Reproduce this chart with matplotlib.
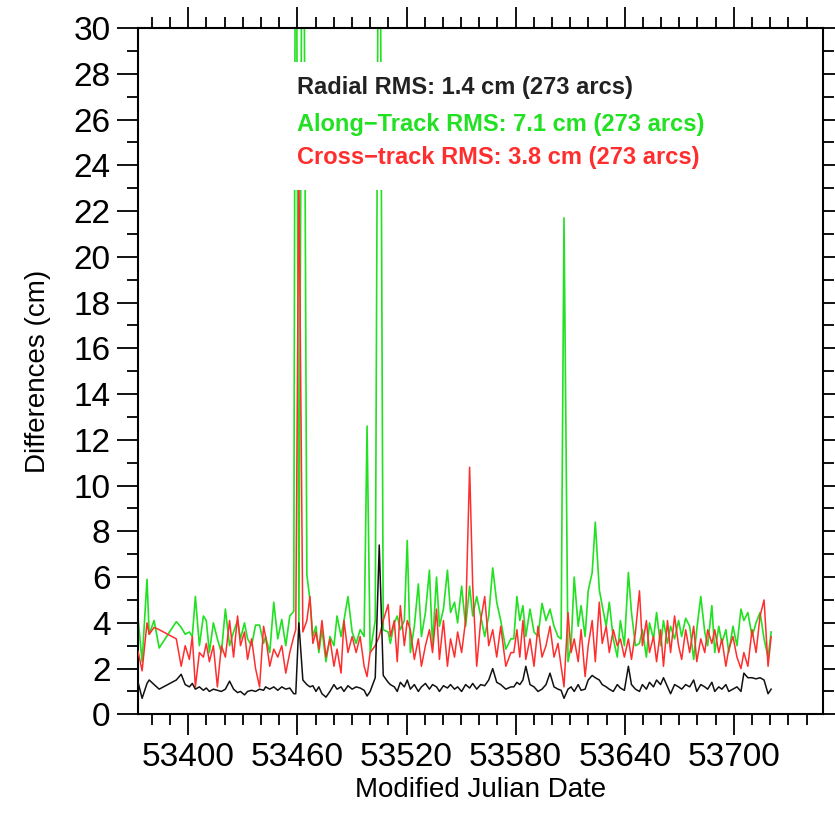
import matplotlib
matplotlib.use('Agg')
import matplotlib.pyplot as plt
from matplotlib.patches import Rectangle
from matplotlib.ticker import MultipleLocator

plt.rcParams['font.family'] = ['Liberation Sans', 'DejaVu Sans']

# arc epochs (MJD)
mjd = [53372.4, 53374.6, 53377.3, 53378.5, 53381.2, 53384.0, 53393.4, 53396.1, 53398.3, 53400.6,
       53402.2, 53403.9, 53406.1, 53408.3, 53409.9, 53411.6, 53413.8, 53416.0, 53418.2, 53420.4,
       53422.7, 53424.9, 53427.1, 53428.7, 53430.9, 53432.6, 53434.8, 53437.0, 53439.2, 53441.4,
       53442.5, 53444.8, 53447.0, 53449.2, 53451.4, 53453.6, 53455.8, 53458.0, 53459.1, 53460.8,
       53463.0, 53465.2, 53466.9, 53468.5, 53470.2, 53471.8, 53473.5, 53475.7, 53477.9, 53480.1,
       53481.8, 53484.0, 53485.6, 53487.8, 53490.1, 53492.3, 53494.5, 53496.7, 53498.3, 53500.0,
       53502.8, 53505.0, 53507.2, 53509.9,
       53511.1, 53513.3, 53514.9, 53516.6, 53518.8, 53520.4, 53522.1, 53524.3, 53526.5, 53528.2,
       53530.4, 53532.6, 53534.3, 53536.5, 53538.1, 53540.3, 53542.5, 53544.2, 53546.4, 53548.1,
       53550.3, 53552.5, 53554.7, 53556.4, 53558.6, 53560.8, 53563.0, 53565.2, 53567.4, 53569.6,
       53571.8, 53574.6, 53577.4,
       53579.0, 53580.7, 53582.3, 53584.0, 53585.6, 53587.9, 53590.1, 53592.3, 53594.5, 53596.7,
       53598.9, 53601.1, 53603.3, 53605.0, 53606.6, 53608.8, 53610.5, 53612.2, 53614.4, 53616.0,
       53618.2, 53619.9, 53622.1, 53623.8, 53626.0, 53627.6, 53629.8, 53631.5, 53633.7, 53635.9,
       53637.6, 53639.8, 53642.0, 53643.7, 53645.9,
       53648.1, 53649.7, 53651.9, 53653.6, 53655.8, 53657.5, 53659.7, 53661.3, 53663.5, 53665.2,
       53667.4, 53669.6, 53671.3, 53673.5, 53675.7, 53677.9, 53679.6, 53681.8, 53684.0, 53685.6,
       53687.9, 53689.5, 53691.7, 53693.4, 53695.6, 53697.2, 53699.5, 53701.7, 53703.9, 53705.5,
       53707.7, 53710.0, 53712.2, 53714.4, 53716.6, 53718.8, 53720.5]

along = [4.2, 2.3, 5.9, 3.5, 4.1, 2.9, 4.05, 3.8, 3.5, 3.6,
         3.4, 5.15, 3.0, 4.3, 4.1, 2.7, 4.0, 3.3, 2.7, 4.6,
         3.0, 3.6, 4.1, 3.3, 4.0, 3.3, 3.0, 3.9, 3.9, 3.1,
         3.4, 2.7, 4.9, 3.3, 4.15, 3.0, 4.3, 4.5, 45.0, 3.5,
         45.0, 6.1, 5.0, 3.4, 3.85, 2.7, 3.7, 2.3, 3.4, 3.0,
         4.3, 3.4, 4.1, 5.15, 3.6, 3.1, 3.7, 3.4, 12.6, 2.7,
         4.1, 45.0, 3.7, 3.6,
         3.1, 4.0, 4.3, 3.7, 4.1, 7.6, 2.7, 3.85, 5.7, 3.4,
         4.45, 6.3, 3.0, 6.0, 3.85, 4.6, 6.3, 4.45, 4.9, 4.0,
         5.6, 3.85, 5.6, 4.3, 5.15, 4.3, 3.4, 4.3, 6.4, 4.9,
         4.1, 2.85, 3.3,
         3.3, 5.15, 4.1, 4.75, 3.4, 4.6, 3.6, 3.4, 4.85, 4.1,
         4.6, 3.85, 3.4, 3.3, 21.7, 2.3, 3.0, 6.0, 3.85, 4.75,
         3.4, 5.4, 6.2, 8.4, 5.45, 4.75, 3.85, 4.9, 3.3, 2.5,
         4.1, 3.0, 6.2, 4.45, 3.0,
         3.1, 3.7, 2.5, 4.0, 3.3, 4.45, 3.0, 4.1, 3.1, 3.85,
         3.3, 4.1, 3.4, 4.2, 3.85, 2.4, 3.7, 5.15, 3.6, 3.0,
         4.75, 2.7, 3.85, 3.1, 3.7, 2.7, 3.85, 3.0, 4.6, 4.1,
         4.45, 3.4, 4.0, 4.45, 3.3, 2.5, 3.6]

cross = [2.75, 1.9, 4.0, 3.5, 3.8, 3.7, 3.3, 2.1, 3.0, 2.4,
         3.4, 1.2, 2.7, 2.5, 3.1, 2.3, 3.0, 1.2, 3.0, 2.5,
         4.1, 2.5, 4.3, 3.0, 3.6, 2.4, 3.3, 2.0, 1.2, 3.85,
         3.4, 2.1, 2.85, 2.5, 3.0, 1.8, 2.7, 3.4, 3.7, 24.0,
         3.6, 4.1, 5.15, 3.1, 3.6, 2.85, 4.1, 2.5, 3.3, 2.1,
         2.85, 1.8, 4.1, 2.7, 3.4, 2.7, 3.4, 2.1, 1.65, 2.7,
         3.0, 3.4, 4.1, 4.8,
         3.4, 4.1, 2.3, 4.75, 3.0, 4.1, 3.7, 2.4, 3.3, 2.1,
         3.0, 3.7, 2.7, 4.6, 2.4, 4.1, 2.1, 3.3, 2.5, 3.6,
         2.7, 4.1, 10.8, 5.6, 2.1, 4.1, 5.15, 3.0, 3.7, 2.5,
         3.85, 2.1, 2.7,
         2.7, 3.7, 2.5, 4.1, 2.4, 3.3, 2.1, 3.85, 2.5, 3.0,
         3.85, 2.5, 3.1, 2.1, 1.2, 4.45, 2.7, 3.3, 2.3, 3.7,
         1.65, 3.0, 4.1, 2.3, 4.9, 3.1, 3.85, 2.7, 3.7, 3.0,
         3.3, 2.5, 3.3, 2.4, 3.6,
         5.4, 3.0, 4.1, 2.7, 3.4, 2.3, 3.7, 2.1, 4.1, 2.7,
         4.3, 3.0, 2.4, 3.7, 2.7, 3.85, 2.3, 3.3, 2.7, 3.7,
         3.1, 3.7, 2.7, 3.3, 2.1, 2.85, 3.4, 2.5, 2.0, 2.7,
         2.1, 3.7, 2.7, 4.3, 5.0, 2.1, 3.4]

radial = [1.4, 0.7, 1.35, 1.5, 1.3, 1.1, 1.5, 1.75, 1.3, 1.2,
          1.35, 1.1, 1.2, 1.05, 1.15, 1.0, 1.1, 1.05, 1.0, 1.1,
          1.45, 1.1, 0.95, 1.0, 0.85, 1.0, 1.05, 1.0, 1.1, 1.05,
          1.2, 1.1, 1.2, 1.05, 1.2, 1.1, 1.15, 0.9, 0.9, 4.0,
          1.5, 1.3, 1.2, 1.25, 1.0, 1.2, 0.9, 0.75, 1.0, 1.3,
          1.1, 1.2, 1.0, 1.25, 1.1, 1.2, 1.15, 1.05, 0.8, 1.0,
          1.6, 7.4, 1.7, 1.4,
          1.3, 1.2, 1.0, 1.4, 1.2, 1.5, 1.1, 1.3, 1.0, 1.2,
          1.35, 1.1, 1.3, 1.2, 1.0, 1.25, 1.15, 1.3, 1.1, 1.2,
          1.0, 1.3, 1.15, 1.35, 1.1, 1.3, 1.25, 1.5, 2.0, 1.4,
          1.3, 1.1, 1.2,
          1.2, 1.4, 1.3, 1.5, 2.1, 1.3, 1.2, 1.0, 1.1, 1.3,
          1.8, 1.2, 1.1, 1.05, 0.7, 1.1, 1.2, 1.0, 1.3, 1.05,
          1.1, 1.5, 1.7, 1.6, 1.5, 1.3, 1.2, 1.1, 1.0, 1.3,
          1.15, 1.05, 2.1, 1.3, 1.1,
          1.0, 1.3, 1.1, 1.4, 1.2, 1.5, 1.3, 1.6, 1.2, 0.9,
          1.3, 1.2, 1.1, 1.3, 1.2, 1.5, 1.0, 1.3, 1.2, 1.1,
          1.4, 1.0, 1.2, 1.1, 1.3, 1.0, 1.1, 1.2, 1.0, 1.8,
          1.6, 1.6, 1.55, 1.6, 1.5, 0.9, 1.1]

labels = ['Radial RMS: 1.4 cm (273 arcs)',
          'Along\u2212Track RMS: 7.1 cm (273 arcs)',
          'Cross\u2212track RMS: 3.8 cm (273 arcs)']

green = '#22e022'
red = '#ff2e2e'

fig = plt.figure(figsize=(8.35, 8.26), dpi=100)
ax = fig.add_axes([0.1656, 0.1352, 0.8200, 0.8309])

ax.plot(mjd, along, color=green, lw=1.2, zorder=2)
ax.plot(mjd, cross, color=red, lw=1.1, zorder=3)
ax.plot(mjd, radial, color='#111111', lw=1.1, zorder=4)

ax.set_xlim(53372.5, 53749)
ax.set_ylim(0, 30)
ax.xaxis.set_major_locator(MultipleLocator(60))
ax.xaxis.set_minor_locator(MultipleLocator(10))
ax.yaxis.set_major_locator(MultipleLocator(2))
ax.yaxis.set_minor_locator(MultipleLocator(1))
ax.tick_params(which='both', direction='out', top=True, right=True, width=1.3)
ax.tick_params(which='major', length=15, labelsize=24)
ax.tick_params(axis='x', which='major', pad=5)
ax.tick_params(axis='y', which='major', pad=5)
ax.tick_params(which='minor', length=8)
for s in ax.spines.values():
    s.set_linewidth(1.5)

ax.set_xlabel('Modified Julian Date', fontsize=20, labelpad=3)
ax.set_ylabel('Differences (cm)', fontsize=20, labelpad=16)

# white panel behind the RMS text hides the spikes
ax.add_patch(Rectangle((0.222, 0.764), 0.64, 0.187, transform=ax.transAxes,
                       facecolor='white', edgecolor='none', zorder=5))
ys = [0.9126, 0.860, 0.8106]
cols = ['#222222', green, red]
for t, y, c in zip(labels, ys, cols):
    ax.text(0.2318, y, t, transform=ax.transAxes, color=c, fontsize=17,
            fontweight='bold', va='center', ha='left', zorder=6)

fig.savefig('out.png', dpi=100)
